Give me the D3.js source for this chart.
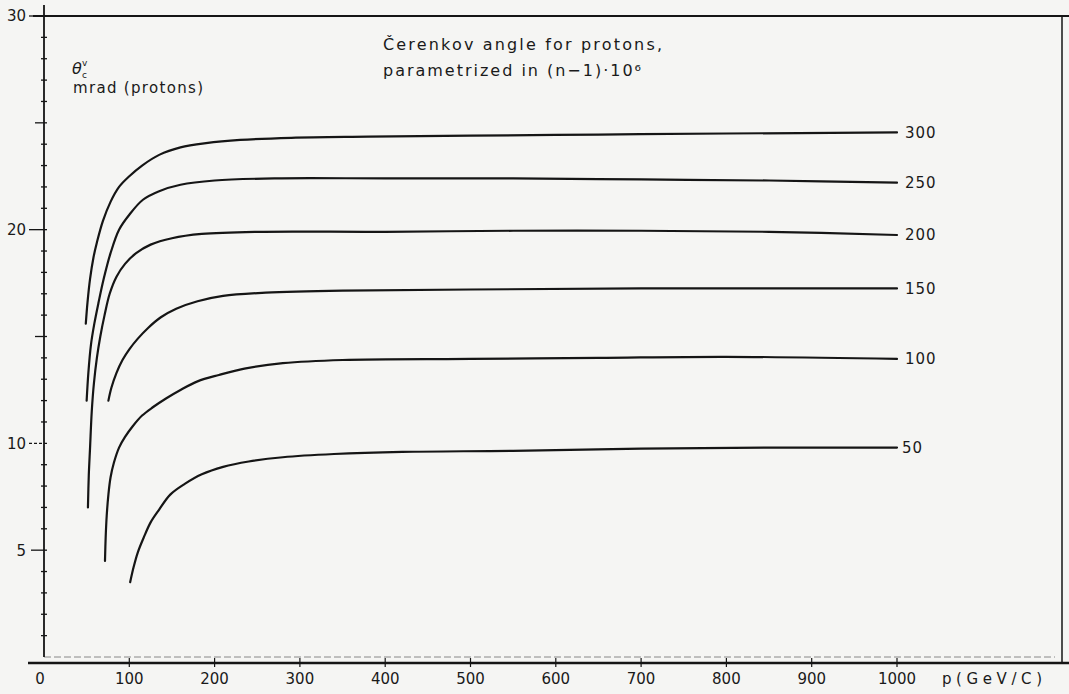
<!DOCTYPE html>
<html>
<head>
<meta charset="utf-8">
<script src="https://cdn.jsdelivr.net/npm/d3@7"></script>
<style>
  body { margin: 0; background: #f5f5f3; }
  svg { display: block; }
  text { font-family: "DejaVu Sans", sans-serif; fill: #1a1a1a; }
</style>
</head>
<body>
<div id="chart"></div>
<script>
// refractive index parameter (n-1)*10^6 for each curve
const indexLabels = [300, 250, 200, 150, 100, 50];

// [p GeV/c, theta mrad]
const curve300 = [[49,15.6],[51,16.6],[54,17.7],[58,18.7],[62,19.4],[69,20.4],[78,21.3],[88,22.0],[100,22.5],[115,23.0],[135,23.5],[160,23.85],[190,24.05],[230,24.2],[290,24.3],[380,24.35],[500,24.4],[650,24.45],[800,24.5],[1000,24.55]];
const curve250 = [[50,12.0],[52,13.3],[55,14.6],[59,15.6],[64,16.6],[70,17.7],[78,18.9],[88,20.0],[100,20.7],[116,21.4],[135,21.8],[160,22.1],[200,22.3],[270,22.4],[400,22.4],[550,22.4],[700,22.35],[850,22.3],[1000,22.2]];
const curve200 = [[51.5,7.0],[52.5,8.5],[54,9.8],[56,11.5],[58.5,12.8],[62,14.0],[66,15.0],[71,16.0],[77,17.0],[85,17.8],[95,18.4],[108,18.9],[125,19.3],[150,19.6],[185,19.8],[250,19.9],[400,19.9],[550,19.95],[700,19.95],[850,19.9],[1000,19.75]];
const curve150 = [[75.5,12.0],[79,12.6],[85,13.3],[92,13.9],[100,14.4],[110,14.9],[122,15.4],[137,15.9],[155,16.3],[180,16.65],[210,16.9],[260,17.05],[350,17.15],[500,17.2],[700,17.25],[1000,17.25]];
const curve100 = [[71.5,4.5],[72.3,5.6],[73.5,6.6],[75.5,7.6],[78,8.4],[82,9.1],[88,9.8],[95,10.3],[104,10.8],[115,11.3],[128,11.7],[143,12.1],[160,12.5],[180,12.9],[205,13.2],[235,13.5],[280,13.75],[350,13.9],[500,13.95],[650,14.0],[800,14.05],[1000,13.95]];
const curve50 = [[101,3.5],[105,4.2],[110,4.9],[117,5.6],[125,6.3],[135,6.9],[148,7.6],[165,8.1],[185,8.55],[210,8.9],[240,9.15],[280,9.35],[340,9.5],[420,9.6],[550,9.65],[700,9.75],[850,9.8],[1000,9.8]];

const curves = [curve300, curve250, curve200, curve150, curve100, curve50];

const xTicks = [100, 200, 300, 400, 500, 600, 700, 800, 900, 1000];
const yLabelTicks = [5, 10, 20, 30];
const yLongTicks = [15, 25];

const W = 1069, H = 694;
const ink = "#151515";

const svg = d3.select("#chart").append("svg")
  .attr("width", W)
  .attr("height", H);

const x = d3.scaleLinear().domain([0, 1000]).range([44, 897]);
const y = d3.scaleLinear().domain([0, 30]).range([657, 16]);

// frame: top rule, right edge, bottom rule
svg.append("line").attr("x1", 33).attr("x2", W).attr("y1", y(30)).attr("y2", y(30))
  .attr("stroke", ink).attr("stroke-width", 2);
svg.append("line").attr("x1", 1062).attr("x2", 1062).attr("y1", y(30)).attr("y2", 663)
  .attr("stroke", ink).attr("stroke-width", 1.5);
svg.append("line").attr("x1", 28).attr("x2", W).attr("y1", 663).attr("y2", 663)
  .attr("stroke", ink).attr("stroke-width", 2.5);
svg.append("line").attr("x1", x(0)).attr("x2", 1055).attr("y1", y(0)).attr("y2", y(0))
  .attr("stroke", "#888").attr("stroke-width", 1).attr("stroke-dasharray", "7,3");

// y axis with a tick every unit
svg.append("line").attr("x1", x(0)).attr("x2", x(0)).attr("y1", 5).attr("y2", y(0))
  .attr("stroke", ink).attr("stroke-width", 1.8);

const minor = d3.range(1, 30).filter(v => !yLabelTicks.includes(v));
svg.append("g").selectAll("line").data(minor).enter().append("line")
  .attr("x1", d => yLongTicks.includes(d) ? x(0) - 9 : x(0) - 3)
  .attr("x2", x(0) + 3)
  .attr("y1", d => y(d)).attr("y2", d => y(d))
  .attr("stroke", ink).attr("stroke-width", 1.3);

const yl = svg.append("g");
yl.selectAll("line").data(yLabelTicks).enter().append("line")
  .attr("x1", d => d === 5 ? 31 : 29).attr("x2", x(0) + 3)
  .attr("y1", d => y(d)).attr("y2", d => y(d))
  .attr("stroke", ink).attr("stroke-width", 1.3)
  .attr("stroke-dasharray", d => d === 10 ? "3,2" : null);
yl.selectAll("text").data(yLabelTicks).enter().append("text")
  .attr("x", 26).attr("y", d => y(d)).attr("dy", "0.36em")
  .attr("text-anchor", "end").attr("font-size", 15)
  .text(d => d);

// x axis ticks
svg.append("g").selectAll("line").data(xTicks).enter().append("line")
  .attr("x1", d => x(d)).attr("x2", d => x(d))
  .attr("y1", 658).attr("y2", 667)
  .attr("stroke", ink).attr("stroke-width", 1.2);
svg.append("g").selectAll("text").data([0].concat(xTicks)).enter().append("text")
  .attr("x", d => d === 0 ? 40 : x(d)).attr("y", 684)
  .attr("text-anchor", "middle").attr("font-size", 15)
  .text(d => d);

svg.append("text").attr("x", 942).attr("y", 684).attr("font-size", 15)
  .attr("textLength", 100).attr("lengthAdjust", "spacing")
  .text("p(GeV/C)");

// axis title
svg.append("text").attr("x", 72).attr("y", 74).attr("font-size", 16).attr("font-style", "italic")
  .text("θ");
svg.append("text").attr("x", 82).attr("y", 78).attr("font-size", 9).text("c");
svg.append("text").attr("x", 82).attr("y", 66).attr("font-size", 9).text("v");
svg.append("text").attr("x", 73).attr("y", 93).attr("font-size", 15)
  .attr("textLength", 130).attr("lengthAdjust", "spacing")
  .text("mrad (protons)");

// chart title
svg.append("text").attr("x", 383).attr("y", 50).attr("font-size", 16)
  .attr("textLength", 279).attr("lengthAdjust", "spacing")
  .text("Čerenkov angle for protons,");
svg.append("text").attr("x", 383).attr("y", 76).attr("font-size", 16)
  .attr("textLength", 258).attr("lengthAdjust", "spacing")
  .text("parametrized in (n−1)·10⁶");

// curves
const line = d3.line()
  .x(d => x(d[0]))
  .y(d => y(d[1]))
  .curve(d3.curveCatmullRom.alpha(0.5));

svg.append("g").selectAll("path").data(curves).enter().append("path")
  .attr("d", line)
  .attr("fill", "none")
  .attr("stroke", ink)
  .attr("stroke-width", 2.2)
  .attr("stroke-linecap", "round");

svg.append("g").selectAll("text").data(curves).enter().append("text")
  .attr("x", (d, i) => x(d[d.length - 1][0]) + (indexLabels[i] === 50 ? 5 : 8))
  .attr("y", d => y(d[d.length - 1][1]))
  .attr("dy", "0.36em")
  .attr("font-size", 15)
  .attr("letter-spacing", 1)
  .text((d, i) => indexLabels[i]);
</script>
</body>
</html>
